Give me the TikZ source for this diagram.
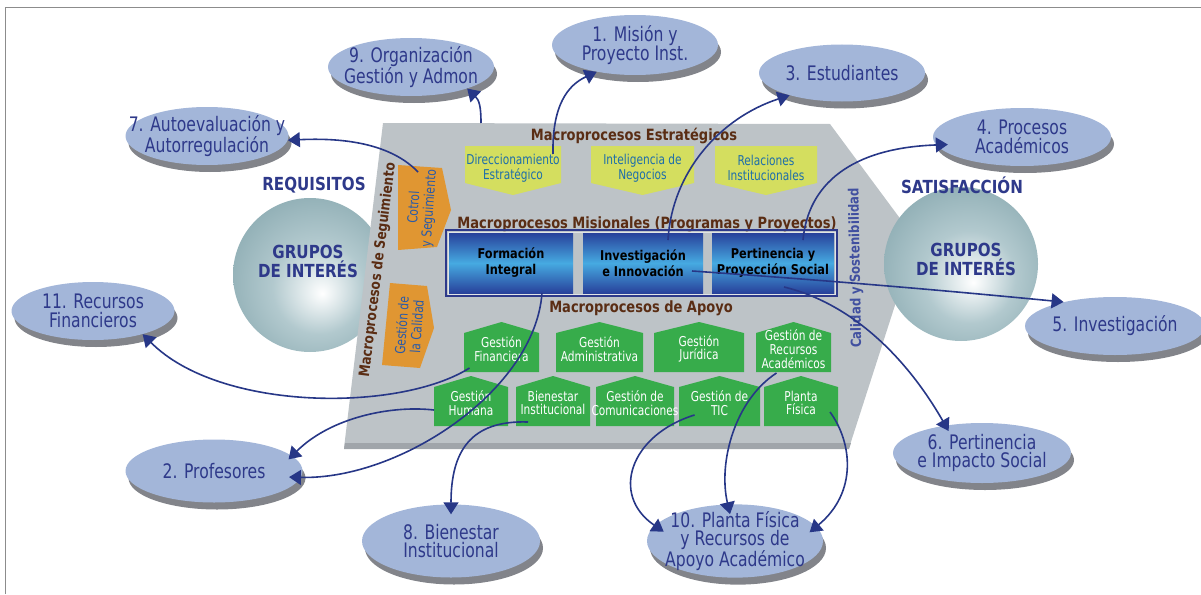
\documentclass[tikz,border=0pt]{standalone}
\usepackage{fontspec}
\setmainfont{DejaVu Sans}
\newfontfamily\narrowsf[FakeStretch=0.78]{DejaVu Sans}
\newfontfamily\narrowbf[FakeStretch=0.84]{DejaVu Sans}
\usetikzlibrary{arrows.meta,shapes.geometric,shadows,fit}

\definecolor{navy}{RGB}{46,57,138}
\definecolor{flecha}{RGB}{39,55,135}
\definecolor{elazul}{RGB}{163,182,217}
\definecolor{sombra}{RGB}{130,132,138}
\definecolor{panel}{RGB}{189,195,199}
\definecolor{panelosc}{RGB}{160,165,170}
\definecolor{amarillo}{RGB}{212,222,95}
\definecolor{amatxt}{RGB}{30,110,170}
\definecolor{verde}{RGB}{55,172,75}
\definecolor{naranja}{RGB}{224,150,50}
\definecolor{naratxt}{RGB}{40,90,170}
\definecolor{marron}{RGB}{90,45,20}
\definecolor{calidad}{RGB}{65,80,160}
\definecolor{misosc}{RGB}{40,65,155}
\definecolor{misclaro}{RGB}{70,170,225}
\definecolor{esfmid}{RGB}{178,201,206}
\definecolor{esfout}{RGB}{115,152,160}
\definecolor{borde}{RGB}{140,140,140}

\pgfdeclareradialshading{esfera}{\pgfpoint{4bp}{-6bp}}{color(0bp)=(white); color(15bp)=(esfmid); color(42bp)=(esfout); color(50bp)=(esfout)}

\tikzset{
	factor/.style={ellipse, fill=elazul, text=navy, align=center, inner xsep=-25pt, inner ysep=-4pt,
		minimum width=166pt, minimum height=58pt, font=\narrowsf\fontsize{20}{18.5}\selectfont,
		drop shadow={shadow xshift=3pt, shadow yshift=-7pt, fill=sombra, opacity=1}},
	titulo/.style={text=marron, inner sep=0pt, font=\narrowbf\bfseries\fontsize{15.5}{17}\selectfont},
	grupo/.style={text=navy, align=center, inner sep=0pt, font=\narrowbf\bfseries\fontsize{18}{19}\selectfont},
	estrattxt/.style={text=amatxt, align=center, inner sep=0pt, font=\narrowsf\fontsize{13.6}{14.5}\selectfont},
	apoyotxt/.style={text=white, align=center, inner sep=0pt, font=\narrowsf\fontsize{13.6}{13.8}\selectfont},
	segtxt/.style={text=naratxt, align=center, inner sep=0pt, rotate=86, font=\narrowsf\fontsize{13.8}{15}\selectfont},
	misional/.style={rectangle, minimum height=60pt, top color=misosc, bottom color=misosc, middle color=misclaro,
		text=black, align=center, inner sep=1pt, font=\narrowbf\bfseries\fontsize{13.5}{16}\selectfont},
	enlace/.style={draw=flecha, line width=1.6pt, -{Triangle[length=12pt,width=15pt]}},
}

\newcommand{\estrat}[4]{%
	\fill[amarillo] (#2,146) -- (#3,146) -- (#3,183) -- ({(#2+#3)/2},195) -- (#2,183) -- cycle;
	\node[estrattxt] (#1) at ({(#2+#3)/2},168) {#4};}
\newcommand{\apoyo}[5]{%
	\fill[verde] (#2,#4) -- ({(#2+#3)/2},{#4-11}) -- (#3,#4) -- (#3,{#4+39}) -- (#2,{#4+39}) -- cycle;
	\node[apoyotxt] (#1) at ({(#2+#3)/2},{#4+16}) {#5};}

\begin{document}
\begin{tikzpicture}[x=1pt,y=-1pt]
			%%%%% START %%%%%
			\useasboundingbox (0,0) rectangle (1201,594);
			\draw[borde, line width=0.8pt] (5,594) -- (5,7) -- (1201,7);
			
			% grupos de interes (izquierda)
			\shade[shading=esfera] (310,275) circle [radius=77pt];
			\node[grupo] (gruposL) at (308,261) {GRUPOS\\DE INTERÉS};
			\node[grupo] (requi) at (314,185) {REQUISITOS};
			
			% panel
			\fill[panel] (383,123) -- (830,124) -- (916,240) -- (849,448) -- (344,448) -- cycle;
			\fill[panelosc] (345,443) -- (851,443) -- (849,449) -- (344,449) -- cycle;
			\coordinate (gtop) at (481,123);
			
			% grupos de interes (derecha)
			\shade[shading=esfera] (961,264) circle [radius=77pt];
			\node[grupo] (gruposR) at (966,259) {GRUPOS\\DE INTERÉS};
			\node[grupo] (satis) at (962,185) {SATISFACCIÓN};
			
			\node[titulo] (hEstr) at (634,136) {Macroprocesos Estratégicos};
			\node[titulo] (hMisi) at (647,224) {Macroprocesos Misionales (Programas y Proyectos)};
			\node[titulo] (hApoy) at (641,308) {Macroprocesos de Apoyo};
			\node[titulo, rotate=83, font=\narrowbf\bfseries\fontsize{14.5}{16}\selectfont] (hSegu) at (378,270) {Macroprocesos de Seguimiento};
			\node[titulo, text=calidad, rotate=91, font=\narrowbf\bfseries\fontsize{14}{16}\selectfont] (hCali) at (856,268) {Calidad y Sostenibilidad};
			
			% estrategicos
			\estrat{direc}{465}{561}{Direccionamiento\\Estratégico}
			\estrat{intel}{591}{694}{Inteligencia de\\Negocios}
			\estrat{relac}{715}{817}{Relaciones\\Institucionales}
			
			% seguimiento
			\fill[naranja] (398,165) -- (442,168) -- (451,210) -- (437,247) -- (398,250) -- cycle;
			\node[segtxt] (ctrl) at (422,208) {Cotrol\\y Seguimiento};
			\fill[naranja] (390,283) -- (427,286) -- (434,328) -- (420,368) -- (382,365) -- cycle;
			\node[segtxt] (calq) at (409,326) {Gestión de\\la Calidad};
			
			% misionales
			\node[misional, minimum width=124pt] (form) at (511,263) {Formación\\Integral};
			\node[misional, minimum width=120pt] (inve) at (643,263) {Investigación\\e Innovación};
			\node[misional, minimum width=122pt] (pert) at (773,263) {Pertinencia y\\Proyección Social};
			\node[draw=white!55!panel, line width=0.6pt, inner sep=1pt, fit=(form)(inve)(pert)] (marcoin) {};
			\node[draw=navy, line width=1.5pt, inner sep=2.6pt, fit=(form)(inve)(pert)] (marco) {};
			
			% apoyo
			\apoyo{finan}{464}{539}{333}{Gestión\\Financiera}
			\apoyo{admin}{556}{643}{333}{Gestión\\Administrativa}
			\apoyo{jurid}{654}{744}{333}{Gestión\\Jurídica}
			\apoyo{recaca}{756}{831}{333}{Gestión de\\Recursos\\Académicos}
			\apoyo{human}{434}{508}{387}{Gestión\\Humana}
			\apoyo{bienins}{516}{590}{387}{Bienestar\\Institucional}
			\apoyo{comun}{596}{674}{387}{Gestión de\\Comunicaciones}
			\apoyo{tic}{679}{760}{387}{Gestión de\\TIC}
			\apoyo{plfis}{764}{838}{387}{Planta\\Física}
			
			% factores
			\node[factor, minimum height=60pt] (mision) at (635,45) {1. Misión y\\Proyecto Inst.};
			\node[factor] (organ) at (411,67) {9. Organización\\Gestión y Admon};
			\node[factor, minimum height=57pt] (estud) at (842,73) {3. Estudiantes};
			\node[factor, minimum width=178pt] (procs) at (1022,137) {4. Procesos\\Académicos};
			\node[factor, minimum width=163pt] (autoev) at (207,136) {7. Autoevaluación y\\Autorregulación};
			\node[factor, minimum width=163pt] (recur) at (93,311) {11. Recursos\\Financieros};
			\node[factor, minimum width=180pt] (invest) at (1115,326) {5. Investigación};
			\node[factor, minimum width=178pt, minimum height=60pt] (pertin) at (982,453) {6. Pertinencia\\e Impacto Social};
			\node[factor, minimum width=177pt, minimum height=63pt] (profes) at (214,471) {2. Profesores};
			\node[factor, minimum width=178pt, minimum height=73pt] (bienes) at (451,541) {8. Bienestar\\Institucional};
			\node[factor, minimum width=176pt, minimum height=73pt] (planta) at (735,541) {10. Planta Física\\y Recursos de\\Apoyo Académico};
			
			% enlaces
			\draw[enlace] ([shift={(40,-14)}]direc.center) .. controls (552,105) and (568,85) .. (mision.215);
			\draw[enlace] (gtop) .. controls (481,106) and (479,100) .. (organ.-21);
			\draw[enlace] ([shift={(25,-23)}]inve.center) .. controls (672,172) and (720,118) .. (estud.203);
			\draw[enlace] ([shift={(30,-23)}]pert.center) .. controls (808,185) and (850,148) .. ([xshift=12pt]procs.185);
			\draw[enlace] ([shift={(49,8)}]inve.center) .. controls (850,282) and (960,292) .. (invest.155);
			\draw[enlace] ([shift={(11,24)}]pert.center) .. controls (850,303) and (905,355) .. ([yshift=-6pt]pertin.140);
			\draw[enlace] ([shift={(-4,-36)}]ctrl.center) .. controls (395,148) and (355,137) .. (autoev.-3);
			\draw[enlace] ([shift={(-32,19)}]finan.center) .. controls (400,412) and (220,412) .. (recur.-25);
			\draw[enlace] ([shift={(-37,7)}]human.center) .. controls (390,405) and (330,418) .. ([xshift=-8pt]profes.8);
			\draw[enlace] ([shift={(31,30)}]form.center) .. controls (535,390) and (400,480) .. ([xshift=-12pt]profes.-4);
			\draw[enlace] ([shift={(-25,19)}]bienins.center) .. controls (470,420) and (451,452) .. ([yshift=-10pt]bienes.north);
			\draw[enlace] ([shift={(-25,12)}]tic.center) .. controls (630,435) and (610,495) .. ([shift={(10,5)}]planta.170);
			\draw[enlace] ([shift={(-17,24)}]recaca.center) .. controls (735,400) and (718,462) .. ([shift={(-5,10)}]planta.north);
			\draw[enlace] ([shift={(29,9)}]plfis.center) .. controls (852,442) and (858,492) .. ([shift={(-4,8)}]planta.12);
			
			%%%%% END %%%%%
\end{tikzpicture}
\end{document}
